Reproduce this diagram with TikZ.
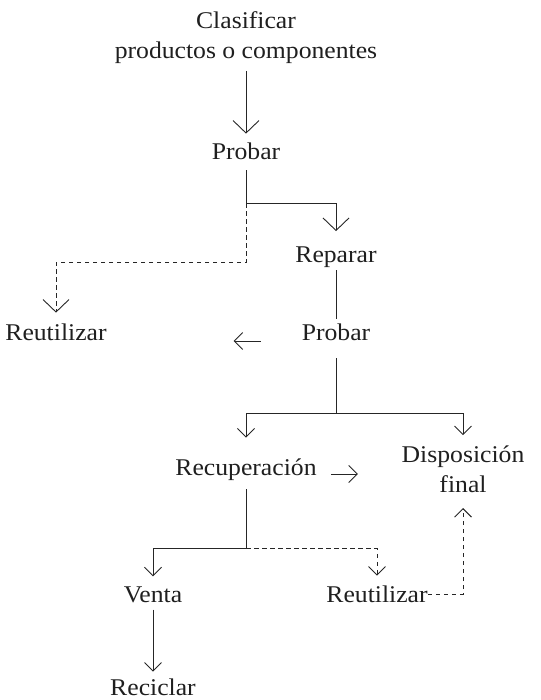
\documentclass[tikz,border=0pt]{standalone}
\usepackage{fontspec}
\setmainfont{Liberation Serif}[FakeStretch=1.07]
\usetikzlibrary{arrows.meta}
\begin{document}
\begin{tikzpicture}[x=1pt,y=-1pt,
  lbl/.style={inner sep=0pt, font=\fontsize{24}{30}\selectfont, align=center, text=black!88},
  conn/.style={line width=0.9pt, draw=black!85},
  big/.style={-{Straight Barb[length=12.5pt,width=26pt]}},
  small/.style={-{Straight Barb[length=8.5pt,width=17pt]}},
  dsh/.style={dash pattern=on 4.5pt off 3.5pt}]
\useasboundingbox (0,0) rectangle (540,700);
% nodes
\node[lbl, anchor=south] (clas) at (246,64) {Clasificar\\productos o componentes};
\node[lbl, anchor=base] (prob1) at (246,159.5) {Probar};
\node[lbl, anchor=base] (rep) at (336,262) {Reparar};
\node[lbl, anchor=base] (reut1) at (56,340) {Reutilizar};
\node[lbl, anchor=base] (prob2) at (336,340) {Probar};
\node[lbl, anchor=base] (recup) at (246,475) {Recuperación};
\node[lbl, anchor=south] (disp) at (463,493) {Disposición\\final};
\node[lbl, anchor=base] (venta) at (153,602) {Venta};
\node[lbl, anchor=base] (reut2) at (377,602) {Reutilizar};
\node[lbl, anchor=base] (recic) at (153,695.5) {Reciclar};
% junctions and free ends
\coordinate (j1) at ([yshift=-43.5pt]prob1.south);
\coordinate (j2) at ([yshift=-73pt]prob2.south);
\coordinate (j3) at ([yshift=-68.5pt]recup.south);
\coordinate (la1) at ([xshift=-41pt,yshift=-1pt]prob2.base west);
\coordinate (la2) at ([xshift=-68pt,yshift=-1pt]prob2.base west);
\coordinate (ra1) at ([xshift=14pt,yshift=1pt]recup.base east);
\coordinate (ra2) at ([xshift=41pt,yshift=1pt]recup.base east);
% connectors
\draw[conn,big] ([yshift=-7pt]clas.south) -- ([yshift=9pt]prob1.north);
\draw[conn,big] ([yshift=-10.5pt]prob1.south) -- (j1) -| ([yshift=15pt]rep.north);
\draw[conn,dsh,big] (j1) -- ++(0,59) -| ([yshift=10.5pt]reut1.north);
\draw[conn] ([yshift=-3pt]rep.south) -- ([yshift=4.5pt]prob2.north);
\draw[conn,small] (la1) -- (la2);
\draw[conn] ([yshift=-18pt]prob2.south) -- (j2);
\draw[conn,small] (j2) -| ([yshift=20.5pt]recup.north);
\draw[conn,small] (j2) -| ([yshift=10.5pt]disp.north);
\draw[conn,small] (ra1) -- (ra2);
\draw[conn] ([yshift=-9pt]recup.south) -- (j3);
\draw[conn,small] (j3) -| ([yshift=9.8pt]venta.north);
\draw[conn,dsh,small] (j3) -| ([yshift=9.5pt]reut2.north);
\draw[conn,dsh,small] ([xshift=0pt,yshift=8pt]reut2.base east) -| ([yshift=-15pt]disp.south);
\draw[conn,small] ([yshift=-7pt]venta.south) -- ([yshift=7pt]recic.north);
\end{tikzpicture}
\end{document}
